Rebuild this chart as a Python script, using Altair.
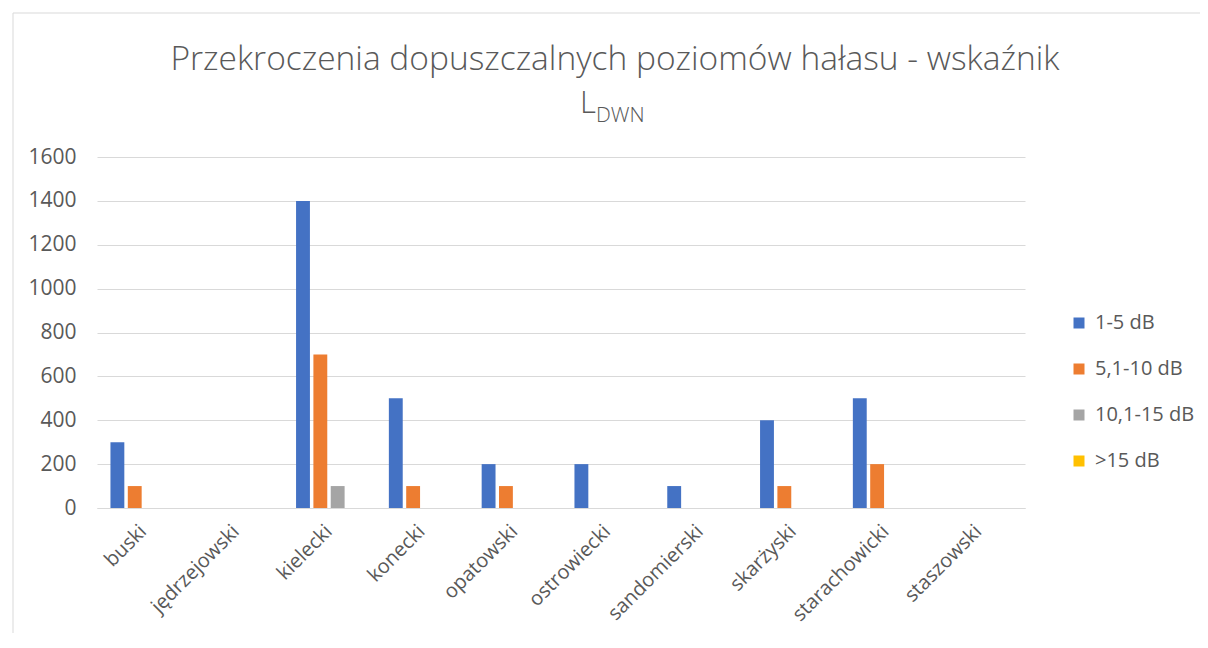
import altair as alt
import pandas as pd

categories = ["buski", "jędrzejowski", "kielecki", "konecki", "opatowski",
              "ostrowiecki", "sandomierski", "skarżyski", "starachowicki", "staszowski"]
series = ["1-5 dB", "5,1-10 dB", "10,1-15 dB", ">15 dB"]
v_1_5 = [300, 0, 1400, 500, 200, 200, 100, 400, 500, 0]
v_5_10 = [100, 0, 700, 100, 100, 0, 0, 100, 200, 0]
v_10_15 = [0, 0, 100, 0, 0, 0, 0, 0, 0, 0]
v_15 = [0, 0, 0, 0, 0, 0, 0, 0, 0, 0]
colors = ["#4472C4", "#ED7D31", "#A5A5A5", "#FFC000"]
title_line1 = "Przekroczenia dopuszczalnych poziomów hałasu - wskaźnik"
title_main = "L"
title_sub = "DWN"

rows = []
for s, vals in zip(series, [v_1_5, v_5_10, v_10_15, v_15]):
    for c, v in zip(categories, vals):
        rows.append({"powiat": c, "seria": s, "wartosc": v})
df = pd.DataFrame(rows)

FONT = "Open Sans"
GRAY = "#595959"

bars = alt.Chart(df).mark_bar().encode(
    x=alt.X("powiat:N", sort=categories, title=None,
            scale=alt.Scale(paddingInner=0.29, paddingOuter=0.145),
            axis=alt.Axis(labelAngle=-45, labelAlign="right", labelBaseline="middle",
                          labelFontSize=20, labelColor=GRAY, labelFont=FONT,
                          labelPadding=20, ticks=False, domain=True,
                          domainColor="#d9d9d9", domainWidth=1, grid=False)),
    xOffset=alt.XOffset("seria:N", sort=series,
                        scale=alt.Scale(paddingInner=0.2, paddingOuter=0)),
    y=alt.Y("wartosc:Q", title=None,
            scale=alt.Scale(domain=[0, 1600], nice=False),
            axis=alt.Axis(values=list(range(0, 1601, 200)), format="d",
                          labelFontSize=21, labelColor=GRAY, labelFont=FONT,
                          labelPadding=21, ticks=False, domain=False,
                          gridColor="#d9d9d9", gridWidth=1)),
    color=alt.Color("seria:N", sort=series,
                    scale=alt.Scale(domain=series, range=colors),
                    legend=alt.Legend(title=None, orient="none", legendX=972,
                                      legendY=156, symbolType="square",
                                      symbolSize=121, symbolStrokeWidth=0,
                                      labelFontSize=20, labelColor=GRAY,
                                      labelFont=FONT, rowPadding=26,
                                      labelOffset=6)),
)

t1 = alt.Chart(pd.DataFrame({"t": [title_line1]})).mark_text(
    fontSize=33.5, font=FONT, fontWeight=300, color=GRAY, align="center",
    baseline="middle").encode(text="t:N", x=alt.value(518), y=alt.value(-97))
t2 = alt.Chart(pd.DataFrame({"t": [title_main]})).mark_text(
    fontSize=31, font=FONT, fontWeight=300, color=GRAY, align="right",
    baseline="alphabetic").encode(text="t:N", x=alt.value(499), y=alt.value(-44))
t3 = alt.Chart(pd.DataFrame({"t": [title_sub]})).mark_text(
    fontSize=21, font=FONT, fontWeight=300, color=GRAY, align="left",
    baseline="alphabetic").encode(text="t:N", x=alt.value(499), y=alt.value(-35))

border = alt.Chart(pd.DataFrame({"a": [0]})).mark_rect(
    fill=None, stroke="#d9d9d9", strokeWidth=1).encode(
    x=alt.value(-84), x2=alt.value(1130), y=alt.value(-144), y2=alt.value(520))

chart = alt.layer(border, bars, t1, t2, t3).properties(
    width=928, height=351,
    padding={"left": 89, "top": 149, "right": 175, "bottom": 125},
    autosize=alt.AutoSizeParams(type="none"),
).configure_view(stroke=None)

chart.save("out.html", embed_options={"renderer": "svg", "actions": False})
